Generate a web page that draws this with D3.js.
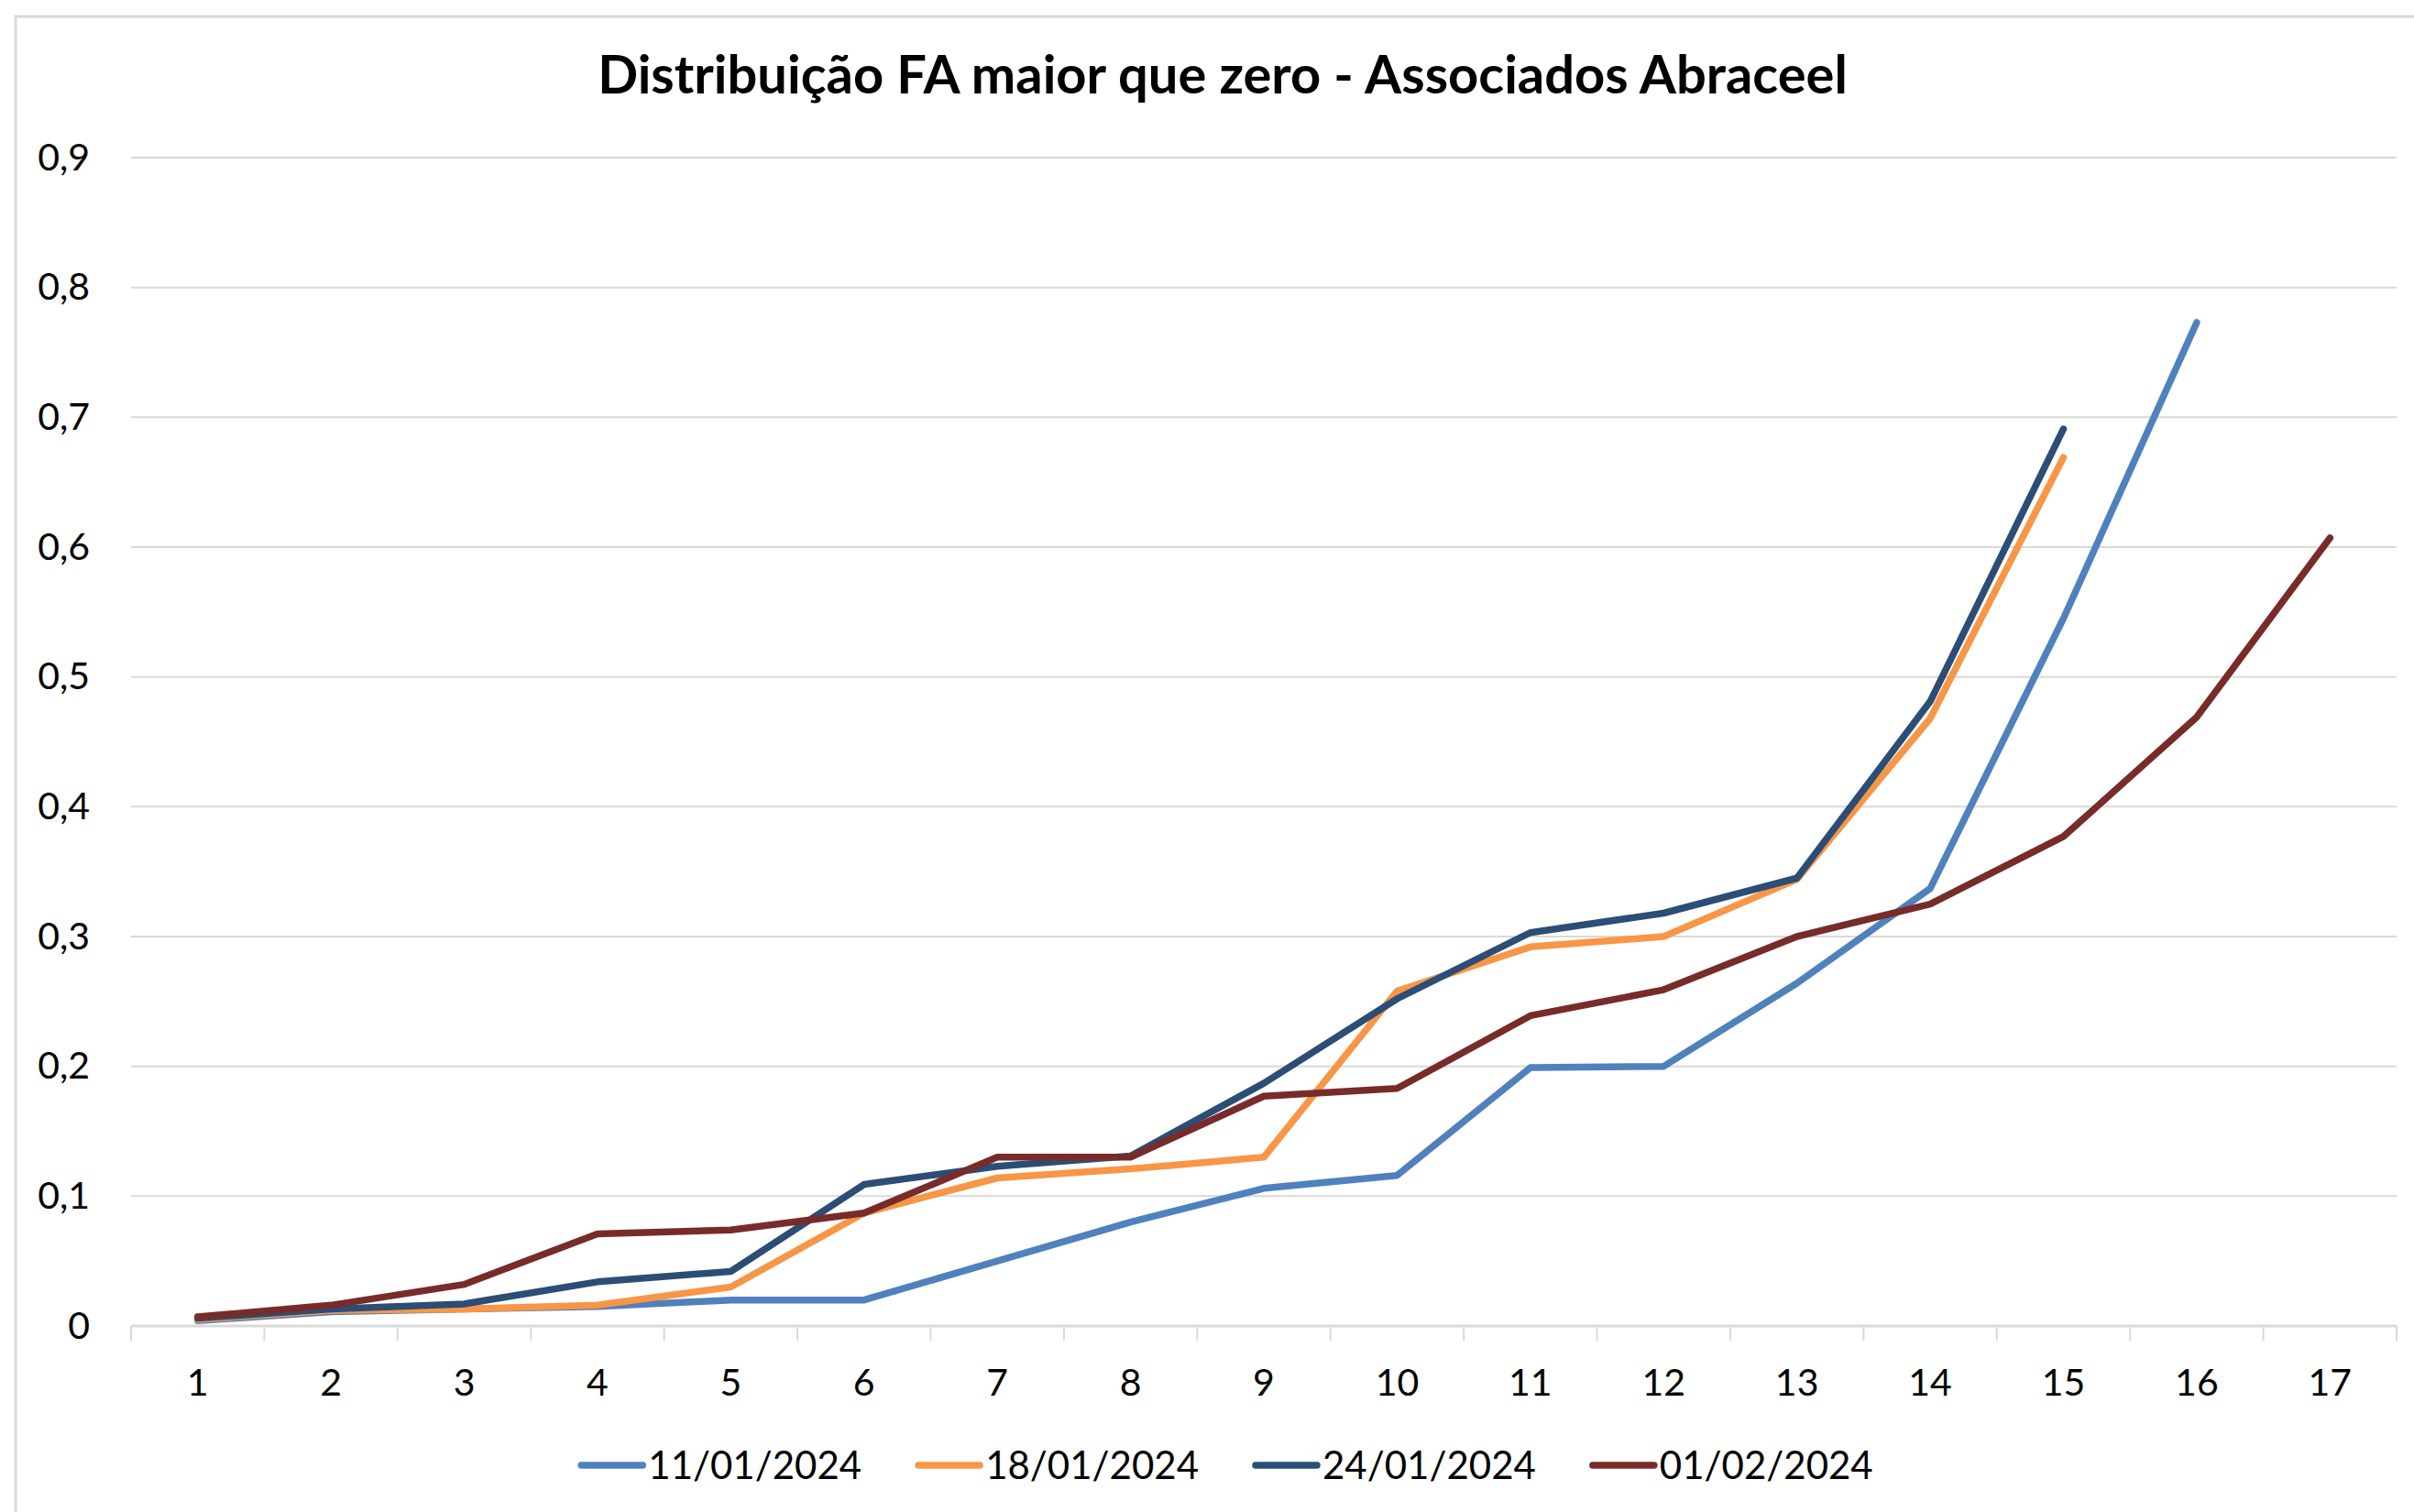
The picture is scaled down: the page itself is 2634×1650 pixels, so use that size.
<!DOCTYPE html>
<html>
<head>
<meta charset="utf-8">
<script src="https://cdn.jsdelivr.net/npm/d3@7"></script>
<style>
  html, body { margin: 0; padding: 0; background: #fff; }
  svg { display: block; }
  text { font-family: Lato, "Open Sans", "Liberation Sans", sans-serif; fill: #000; }
</style>
</head>
<body>
<svg id="chart" width="2634" height="1650"></svg>
<script>
const title = "Distribuição FA maior que zero - Associados Abraceel";
const categories = ["1","2","3","4","5","6","7","8","9","10","11","12","13","14","15","16","17"];
const yTicks = [0, 0.1, 0.2, 0.3, 0.4, 0.5, 0.6, 0.7, 0.8, 0.9];
const seriesNames = ["11/01/2024", "18/01/2024", "24/01/2024", "01/02/2024"];
const seriesColors = ["#4F81BD", "#F79646", "#2C4D75", "#772C2A"];
const s11jan = [0.004, 0.011, 0.013, 0.015, 0.020, 0.020, 0.050, 0.080, 0.106, 0.116, 0.199, 0.200, 0.264, 0.337, 0.545, 0.773];
const s18jan = [0.005, 0.012, 0.013, 0.016, 0.030, 0.087, 0.114, 0.121, 0.130, 0.258, 0.292, 0.300, 0.344, 0.468, 0.669];
const s24jan = [0.006, 0.013, 0.017, 0.034, 0.042, 0.109, 0.123, 0.131, 0.187, 0.252, 0.303, 0.318, 0.345, 0.481, 0.691];
const s01feb = [0.007, 0.016, 0.032, 0.071, 0.074, 0.087, 0.130, 0.130, 0.177, 0.183, 0.239, 0.259, 0.300, 0.325, 0.377, 0.469, 0.607];
const seriesValues = [s11jan, s18jan, s24jan, s01feb];

const svg = d3.select("#chart");
const W = 2634, H = 1650;
const plot = { left: 143, right: 2615, top: 172, bottom: 1447 };
const grid = "#D9D9D9";

// chart area border
svg.append("rect").attr("x", 17).attr("y", 18).attr("width", W + 20).attr("height", H + 20)
  .attr("fill", "#fff").attr("stroke", grid).attr("stroke-width", 3);

const x = d3.scaleBand().domain(categories).range([plot.left, plot.right]).padding(0);
const y = d3.scaleLinear().domain([0, 0.9]).range([plot.bottom, plot.top]);
const fmt = d => d === 0 ? "0" : d3.format(".1f")(d).replace(".", ",");

// gridlines
svg.append("g").selectAll("line").data(yTicks.filter(d => d > 0)).join("line")
  .attr("x1", plot.left).attr("x2", plot.right)
  .attr("y1", d => y(d)).attr("y2", d => y(d))
  .attr("stroke", grid).attr("stroke-width", 2);

// y axis labels
const yAxis = d3.axisLeft(y).tickValues(yTicks).tickFormat(fmt).tickSize(0).tickPadding(0);
const gy = svg.append("g").attr("transform", "translate(98,0)").call(yAxis);
gy.select(".domain").remove();
gy.selectAll("text").attr("font-size", 41).attr("fill", "#000")
  .style("font-family", "Lato, 'Open Sans', sans-serif");

// x axis line and tick marks at category boundaries
svg.append("line").attr("x1", plot.left).attr("x2", plot.right)
  .attr("y1", plot.bottom).attr("y2", plot.bottom).attr("stroke", grid).attr("stroke-width", 3);
const bounds = categories.map(c => x(c)).concat([x(categories[categories.length - 1]) + x.bandwidth()]);
svg.append("g").selectAll("line").data(bounds).join("line")
  .attr("x1", d => d).attr("x2", d => d)
  .attr("y1", plot.bottom).attr("y2", plot.bottom + 16)
  .attr("stroke", grid).attr("stroke-width", 2);

const xAxis = d3.axisBottom(x).tickSize(0).tickPadding(0);
const gx = svg.append("g").attr("transform", `translate(0,${plot.bottom})`).call(xAxis);
gx.select(".domain").remove();
gx.selectAll("text").attr("font-size", 41).attr("fill", "#000").attr("dy", null)
  .attr("y", 76).style("font-family", "Lato, 'Open Sans', sans-serif");

// lines
const line = d3.line().x((d, i) => x(categories[i]) + x.bandwidth() / 2).y(d => y(d));
svg.append("g").selectAll("path").data(seriesValues).join("path")
  .attr("d", d => line(d))
  .attr("fill", "none")
  .attr("stroke", (d, i) => seriesColors[i])
  .attr("stroke-width", 7.5)
  .attr("stroke-linecap", "round")
  .attr("stroke-linejoin", "round");

// title, fitted to reference width
const t = svg.append("text").attr("x", 1334).attr("y", 102).attr("text-anchor", "middle")
  .attr("font-weight", "bold").attr("font-size", 100).text(title);
const tw = t.node().getComputedTextLength();
t.attr("font-size", 100 * 1364 / tw);

// legend
const legend = svg.append("g");
const items = legend.selectAll("g").data(seriesNames).join("g");
items.append("line").attr("x1", 0).attr("x2", 67).attr("y1", 0).attr("y2", 0)
  .attr("stroke", (d, i) => seriesColors[i]).attr("stroke-width", 7.5).attr("stroke-linecap", "round");
items.append("text").attr("x", 73).attr("y", 15).attr("font-size", 42).text(d => d);
const widths = [];
items.each(function () { widths.push(this.getBBox().width); });
const gap = 62;
const total = d3.sum(widths) + gap * (widths.length - 1);
const start = 1339 - total / 2;
items.attr("transform", (d, i) => {
  const tx = start + d3.sum(widths.slice(0, i)) + gap * i;
  return `translate(${tx},1599)`;
});
</script>
</body>
</html>
